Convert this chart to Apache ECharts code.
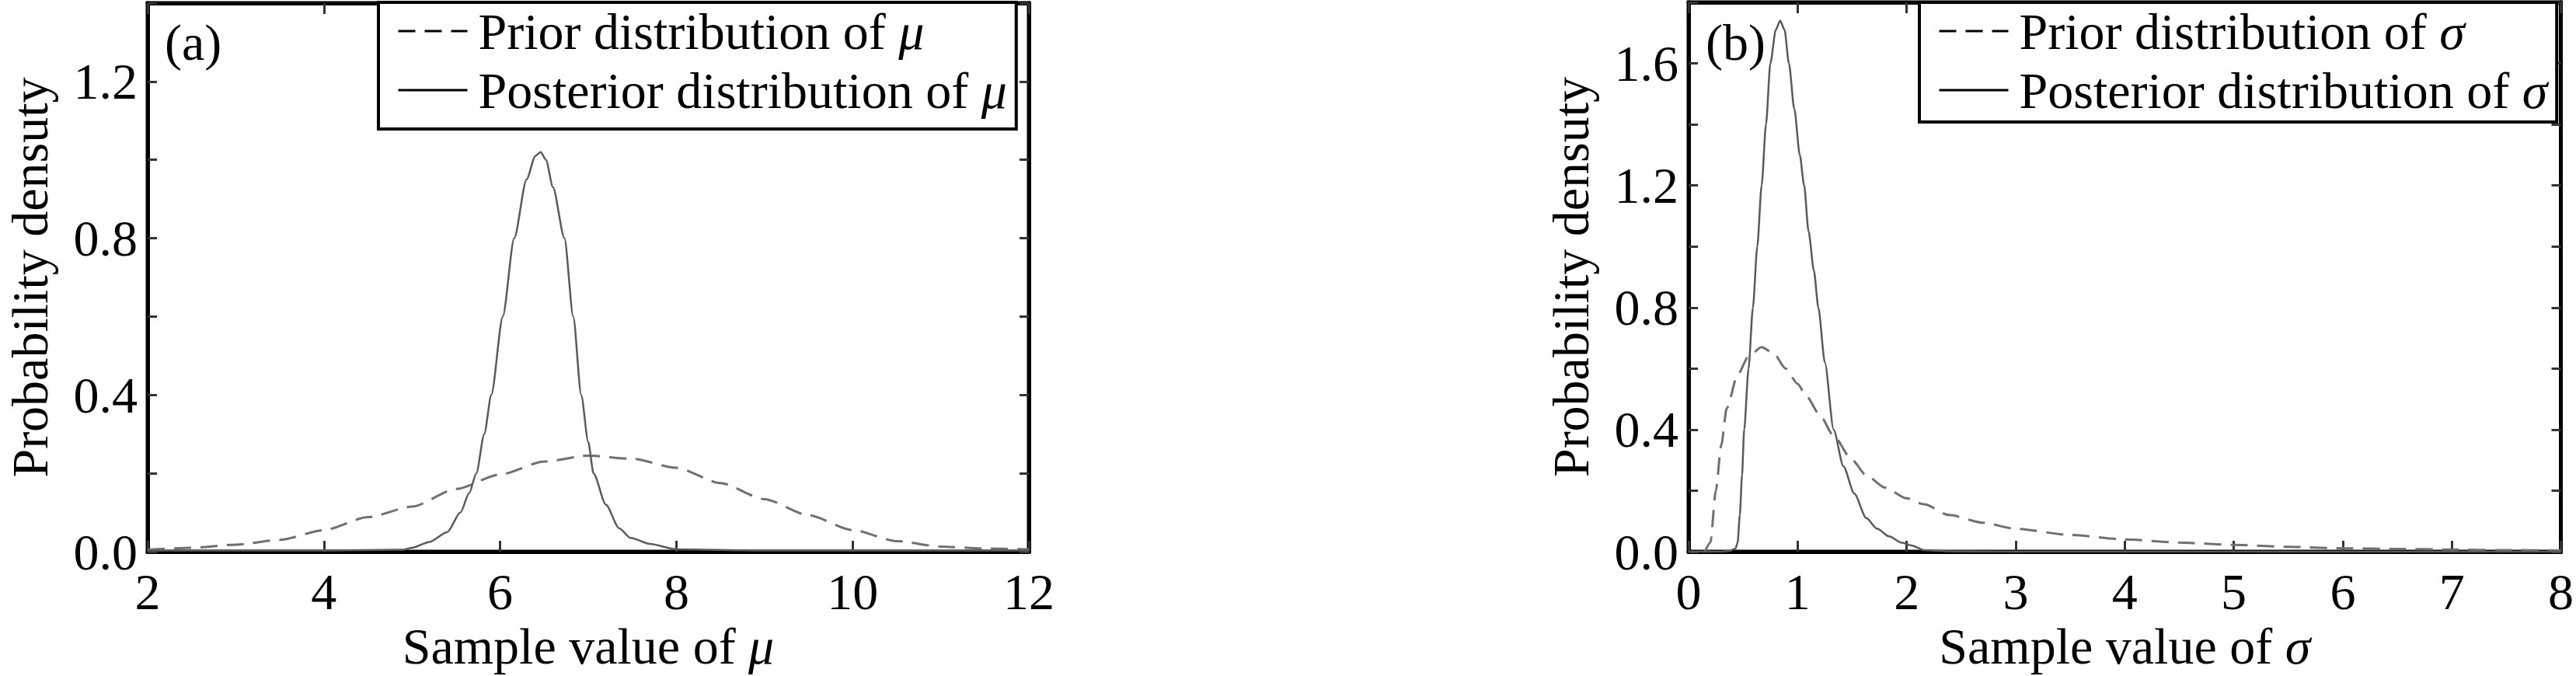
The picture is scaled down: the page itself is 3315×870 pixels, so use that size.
<!DOCTYPE html>
<html>
<head>
<meta charset="utf-8">
<script src="https://cdn.jsdelivr.net/npm/echarts@6/dist/echarts.min.js"></script>
<style>
html,body{margin:0;padding:0;background:#ffffff;}
#chart{width:3315px;height:870px;}
</style>
</head>
<body>
<div id="chart"></div>
<script>
// ---------- data ----------
// Panel (a): sample value of mu
const priorMuX = [2, 2.5, 3, 3.5, 4, 4.5, 5, 5.5, 6, 6.5, 7, 7.5, 8, 8.5, 9, 9.5, 10, 10.5, 11, 11.5, 12];
const priorMuY = [0.005, 0.01, 0.018, 0.03, 0.055, 0.088, 0.115, 0.16, 0.197, 0.23, 0.245, 0.237, 0.214, 0.175, 0.134, 0.093, 0.055, 0.027, 0.013, 0.008, 0.006];

const postMuX = [2, 4, 4.9, 5.0, 5.2, 5.4, 5.55, 5.65, 5.73, 5.82, 5.9, 6.03, 6.16, 6.3, 6.4, 6.46, 6.52, 6.6, 6.73, 6.83, 6.92, 7.0, 7.06, 7.2, 7.35, 7.48, 7.7, 8.0, 9, 10, 12];
const postMuY = [0.003, 0.003, 0.005, 0.01, 0.025, 0.05, 0.1, 0.15, 0.2, 0.3, 0.4, 0.6, 0.8, 0.95, 1.01, 1.02, 1.0, 0.93, 0.8, 0.6, 0.4, 0.28, 0.2, 0.12, 0.06, 0.035, 0.02, 0.006, 0.003, 0.003, 0.003];

// Panel (b): sample value of sigma
const priorSigmaX = [0.15, 0.2, 0.25, 0.3, 0.35, 0.45, 0.55, 0.67, 0.78, 0.89, 1.0, 1.08, 1.2, 1.33, 1.5, 1.63, 1.8, 2.0, 2.16, 2.39, 2.7, 3.0, 3.5, 4.0, 4.5, 5.0, 5.5, 6.0, 6.5, 7.0, 7.5, 8.0];
const priorSigmaY = [0, 0.03, 0.2, 0.35, 0.47, 0.58, 0.64, 0.67, 0.65, 0.6, 0.55, 0.51, 0.45, 0.38, 0.3, 0.25, 0.21, 0.175, 0.155, 0.12, 0.095, 0.075, 0.055, 0.04, 0.03, 0.022, 0.016, 0.011, 0.009, 0.007, 0.005, 0.004];

const postSigmaX = [0, 0.3, 0.38, 0.43, 0.45, 0.47, 0.49, 0.51, 0.55, 0.59, 0.63, 0.67, 0.71, 0.75, 0.8, 0.84, 0.88, 0.92, 0.97, 1.02, 1.06, 1.1, 1.15, 1.19, 1.25, 1.33, 1.42, 1.52, 1.63, 1.73, 1.84, 1.95, 2.05, 2.16, 2.4, 3, 4, 5, 6, 7, 8];
const postSigmaY = [0, 0, 0.003, 0.01, 0.03, 0.12, 0.25, 0.4, 0.6, 0.8, 1.0, 1.2, 1.4, 1.6, 1.71, 1.74, 1.71, 1.6, 1.45, 1.3, 1.2, 1.05, 0.92, 0.8, 0.62, 0.4, 0.28, 0.19, 0.11, 0.075, 0.05, 0.03, 0.02, 0.005, 0.001, 0, 0, 0, 0, 0, 0];

// axis ranges / tick settings
const muAxis = {min: 2, max: 12, interval: 2};
const sigmaAxis = {min: 0, max: 8, interval: 1};
const densMuAxis = {min: 0, max: 1.4, interval: 0.2};
const densSigmaAxis = {min: 0, max: 1.8, interval: 0.2};

// texts
const panelLabels = ['(a)', '(b)'];
const yTitle = 'Probability densuty';
const xTitles = ['Sample value of {it|μ}', 'Sample value of {it|σ}'];
const seriesNames = ['Prior distribution of μ', 'Posterior distribution of μ', 'Prior distribution of σ', 'Posterior distribution of σ'];

// ---------- chart ----------
const FONT = "'Liberation Serif', 'Times New Roman', serif";
const FS = 66;
const zip = (xs, ys) => xs.map((x, i) => [x, ys[i]]);
const richIt = {it: {fontStyle: 'italic', fontSize: FS, fontFamily: FONT, color: '#000'}};
const yFmt = v => (Math.round(v * 10) % 4 === 0 ? v.toFixed(1) : '');

function xAxisPair(grid, range, title) {
  const base = {
    gridIndex: grid, type: 'value', min: range.min, max: range.max, interval: range.interval,
    axisLine: {show: true, onZero: false, lineStyle: {color: '#000', width: 5}},
    axisTick: {show: true, inside: true, length: 14, lineStyle: {color: '#333', width: 3}},
    splitLine: {show: false}
  };
  return [
    Object.assign({}, base, {
      position: 'bottom',
      axisLabel: {show: true, margin: 18, fontSize: FS, fontFamily: FONT, color: '#000', showMinLabel: true, showMaxLabel: true},
      name: title, nameLocation: 'middle', nameGap: 80,
      nameTextStyle: {fontSize: FS, fontFamily: FONT, color: '#000', rich: richIt}
    }),
    Object.assign({}, base, {position: 'top', axisLabel: {show: false}})
  ];
}
function yAxisPair(grid, range) {
  const base = {
    gridIndex: grid, type: 'value', min: range.min, max: range.max, interval: range.interval,
    axisLine: {show: true, onZero: false, lineStyle: {color: '#000', width: 5}},
    axisTick: {show: true, inside: true, length: 12, lineStyle: {color: '#333', width: 3}},
    splitLine: {show: false}
  };
  return [
    Object.assign({}, base, {
      position: 'left',
      axisLabel: {show: true, margin: 13, fontSize: FS, fontFamily: FONT, color: '#000', formatter: yFmt, showMaxLabel: true},
      name: yTitle, nameLocation: 'middle', nameRotate: 90, nameGap: 122,
      nameTextStyle: {fontSize: FS, fontFamily: FONT, color: '#000', lineHeight: 60}
    }),
    Object.assign({}, base, {position: 'right', axisLabel: {show: false}})
  ];
}
function legendFor(names, left, padBottom) {
  return {
    data: names, left: left, top: 3, orient: 'vertical',
    itemWidth: 89, itemHeight: 20, itemGap: 10,
    padding: [4, 12, padBottom, 24],
    borderColor: '#000', borderWidth: 4, backgroundColor: '#fff',
    selectedMode: false,
    lineStyle: {color: '#000', width: 3},
    itemStyle: {color: '#000', opacity: 0},
    textStyle: {fontSize: FS, fontFamily: FONT, color: '#000', lineHeight: 60, padding: [0, 0, 0, 9], rich: richIt},
    formatter: n => n.replace(/([μσ])$/, '{it|$1}')
  };
}
function lineSeries(name, xi, yi, data, dashed) {
  return {
    type: 'line', name: name, xAxisIndex: xi, yAxisIndex: yi, data: data,
    symbol: 'none', showSymbol: false, smooth: 0.25, smoothMonotone: 'x', clip: true,
    lineStyle: dashed ? {color: '#707070', width: 3, type: [22, 12]} : {color: '#5a5a5a', width: 2.5},
    itemStyle: {color: dashed ? '#707070' : '#5a5a5a'},
    z: 3
  };
}

const chart = echarts.init(document.getElementById('chart'), null, {renderer: 'svg'});
chart.setOption({
  backgroundColor: '#ffffff',
  animation: false,
  grid: [
    {left: 190, top: 4, width: 1134, height: 706, show: true, borderColor: '#000', borderWidth: 5, backgroundColor: 'transparent'},
    {left: 2173, top: 3, width: 1125, height: 707, show: true, borderColor: '#000', borderWidth: 5, backgroundColor: 'transparent'}
  ],
  xAxis: [].concat(xAxisPair(0, muAxis, xTitles[0]), xAxisPair(1, sigmaAxis, xTitles[1])),
  yAxis: [].concat(yAxisPair(0, densMuAxis), yAxisPair(1, densSigmaAxis)),
  legend: [
    legendFor([seriesNames[0], seriesNames[1]], 487, 17),
    legendFor([seriesNames[2], seriesNames[3]], 2470, 8)
  ],
  graphic: [
    {type: 'text', left: 212, top: 21, z: 10, style: {text: panelLabels[0], font: FS + "px 'Liberation Serif', serif", fill: '#000'}},
    {type: 'text', left: 2195, top: 21, z: 10, style: {text: panelLabels[1], font: FS + "px 'Liberation Serif', serif", fill: '#000'}}
  ],
  series: [
    lineSeries(seriesNames[0], 0, 0, zip(priorMuX, priorMuY), true),
    lineSeries(seriesNames[1], 0, 0, zip(postMuX, postMuY), false),
    lineSeries(seriesNames[2], 2, 2, zip(priorSigmaX, priorSigmaY), true),
    lineSeries(seriesNames[3], 2, 2, zip(postSigmaX, postSigmaY), false)
  ]
});
</script>
</body>
</html>
